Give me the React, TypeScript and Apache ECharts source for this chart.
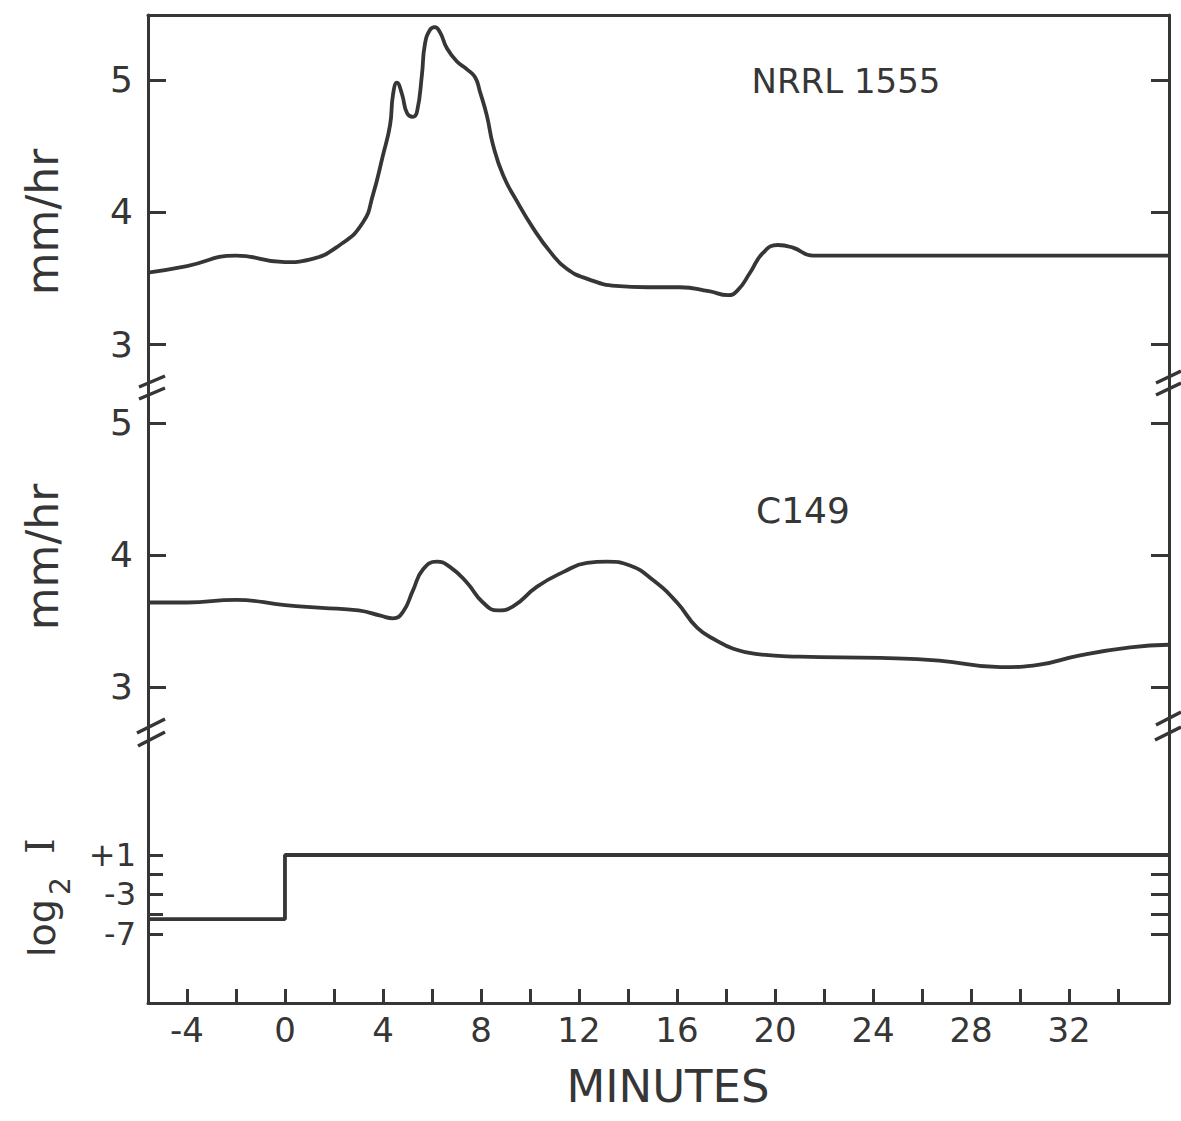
import React, { useEffect, useRef } from "react";
import * as echarts from "echarts";

// ---- data ----
const xMin = -5.59;
const xMax = 36.08;

const nrrlMinutes = [-5.59, -4, -2, 0, 1, 2.24, 3.18, 3.59, 4.0, 4.29, 4.41, 4.57, 4.78, 4.98, 5.22, 5.39, 5.59, 5.71, 5.92, 6.12, 6.33, 6.61, 7.02, 7.43, 7.76, 7.96, 8.24, 8.49, 8.9, 9.47, 10.12, 10.82, 11.5, 12.4, 13.5, 14.8, 16.12, 17.3, 18.08, 18.49, 18.98, 19.51, 20.12, 20.73, 21.55, 24.3, 36.08];
const nrrlRate = [3.54, 3.59, 3.67, 3.62, 3.64, 3.75, 3.92, 4.13, 4.43, 4.66, 4.89, 4.98, 4.89, 4.75, 4.72, 4.76, 5.04, 5.27, 5.38, 5.4, 5.36, 5.24, 5.14, 5.08, 5.02, 4.91, 4.73, 4.51, 4.28, 4.08, 3.88, 3.7, 3.57, 3.49, 3.44, 3.43, 3.43, 3.4, 3.37, 3.41, 3.54, 3.69, 3.75, 3.73, 3.67, 3.67, 3.67];

const c149Minutes = [-5.59, -4, -2, 0, 1.5, 3, 3.9, 4.41, 4.82, 5.22, 5.63, 6.2, 6.73, 7.43, 8.08, 8.69, 9.31, 10.29, 11.35, 12.33, 13.14, 14.08, 15.02, 16.0, 16.82, 17.63, 18.3, 19.2, 21, 24.3, 26.7, 29.2, 30.8, 32.45, 34.5, 36.08];
const c149Rate = [3.64, 3.64, 3.66, 3.62, 3.6, 3.58, 3.54, 3.52, 3.57, 3.73, 3.89, 3.95, 3.91, 3.79, 3.64, 3.58, 3.61, 3.76, 3.87, 3.94, 3.95, 3.92, 3.81, 3.64, 3.45, 3.35, 3.29, 3.25, 3.23, 3.22, 3.2, 3.15, 3.17, 3.24, 3.3, 3.32];

const lightMinutes = [-5.59, 0, 0, 36.08];
const lightLog2I = [-5.5, -5.5, 1, 1];

const minuteTicks = [-4, -2, 0, 2, 4, 6, 8, 10, 12, 14, 16, 18, 20, 22, 24, 26, 28, 30, 32, 34];
const minuteLabels = [-4, 0, 4, 8, 12, 16, 20, 24, 28, 32];
const rateTicks = [3, 4, 5];
const logTicksLeft = [1, -1, -3, -5, -7];
const logTicksRight = [-1, -3, -5, -7];
const logLabels = [1, -3, -7];

const INK = "#363636";
const FONT = "DejaVu Sans";

function pairs(xs: number[], ys: number[]) {
  return xs.map((x, i) => [x, ys[i]]);
}

export default function App() {
  const ref = useRef<HTMLDivElement>(null);
  useEffect(() => {
    document.body.style.margin = "0";
    const chart = echarts.init(ref.current!, undefined, { renderer: "svg" });

    const gridLeft = 148;
    const gridRight = 12;
    const grids = [
      { left: gridLeft, right: gridRight, top: 15, height: 373 },
      { left: gridLeft, right: gridRight, top: 388, height: 342 },
      { left: gridLeft, right: gridRight, top: 730, height: 273 },
    ];
    const yRanges = [
      [2.667, 5.492],
      [2.674, 5.265],
      [-13.99, 13.66],
    ];

    const axisLine = { show: true, onZero: false, lineStyle: { color: INK, width: 3 } };
    const tickStyle = { color: INK, width: 3 };
    const labelStyle = { color: INK, fontFamily: FONT, fontSize: 36 };

    const xAxes: any[] = [
      {
        gridIndex: 0, type: "value", min: xMin, max: xMax, position: "top",
        axisLine, axisTick: { show: false }, axisLabel: { show: false }, splitLine: { show: false },
      },
      {
        gridIndex: 1, type: "value", min: xMin, max: xMax, show: false,
      },
      {
        gridIndex: 2, type: "value", min: xMin, max: xMax, position: "bottom",
        axisLine,
        axisTick: { show: true, inside: true, length: 14, lineStyle: tickStyle, customValues: minuteTicks },
        axisLabel: {
          show: true, ...labelStyle, fontSize: 34, margin: 10, customValues: minuteLabels,
          formatter: (v: number) => (v < 0 ? "-" + Math.abs(v) : String(v)),
        },
        splitLine: { show: false },
      },
    ];

    const yAxes: any[] = [];
    for (let g = 0; g < 3; g++) {
      const isLog = g === 2;
      yAxes.push({
        gridIndex: g, type: "value", position: "left", min: yRanges[g][0], max: yRanges[g][1],
        axisLine,
        axisTick: { show: true, inside: true, length: isLog ? 15 : 18, lineStyle: tickStyle, customValues: isLog ? logTicksLeft : rateTicks },
        axisLabel: {
          show: true, ...labelStyle, fontSize: isLog ? 32 : 36, margin: isLog ? 12 : 15,
          customValues: isLog ? logLabels : rateTicks,
          formatter: (v: number) => (isLog ? (v > 0 ? "+" + v : "-" + Math.abs(v)) : String(v)),
        },
        splitLine: { show: false },
      });
      yAxes.push({
        gridIndex: g, type: "value", position: "right", min: yRanges[g][0], max: yRanges[g][1],
        axisLine,
        axisTick: { show: true, inside: true, length: 18, lineStyle: tickStyle, customValues: isLog ? logTicksRight : rateTicks },
        axisLabel: { show: false },
        splitLine: { show: false },
      });
    }

    const lineStyle = { color: INK, width: 3.8 };
    const series: any[] = [
      {
        type: "line", xAxisIndex: 0, yAxisIndex: 0, data: pairs(nrrlMinutes, nrrlRate),
        smooth: 0.5, showSymbol: false, lineStyle, silent: true,
      },
      {
        type: "line", xAxisIndex: 1, yAxisIndex: 2, data: pairs(c149Minutes, c149Rate),
        smooth: 0.5, showSymbol: false, lineStyle, silent: true,
      },
      {
        type: "line", xAxisIndex: 2, yAxisIndex: 4, data: pairs(lightMinutes, lightLog2I),
        smooth: false, showSymbol: false, lineStyle, silent: true,
      },
    ];

    const slash = (x1: number, y1: number, x2: number, y2: number) => ({
      type: "line", shape: { x1, y1, x2, y2 }, style: { stroke: INK, lineWidth: 3.5 }, z: 10,
    });
    const rotText = (text: string, x: number, y: number, size: number, family = FONT) => ({
      type: "text", x, y, rotation: Math.PI / 2, z: 10,
      style: {
        text, fontSize: size, fontFamily: family, fill: INK,
        align: "center", verticalAlign: "middle", textAlign: "center", textVerticalAlign: "middle",
      },
    });
    const plainText = (text: string, x: number, y: number, size: number) => ({
      type: "text", x, y, z: 10,
      style: {
        text, fontSize: size, fontFamily: FONT, fill: INK,
        align: "center", verticalAlign: "middle", textAlign: "center", textVerticalAlign: "middle",
      },
    });

    const graphic: any[] = [
      // axis breaks
      slash(139, 387, 165, 376),
      slash(139, 399, 165, 388),
      slash(1156, 383, 1181, 371),
      slash(1156, 395, 1181, 383),
      slash(137, 733, 165, 719),
      slash(138, 746, 165, 732),
      slash(1156, 725, 1181, 712),
      slash(1155, 740, 1181, 727),
      // axis names
      rotText("mm/hr", 42, 222, 44),
      rotText("mm/hr", 42, 557, 44),
      rotText("log", 42, 928, 38),
      rotText("2", 60, 886, 28),
      rotText("I", 40, 846, 40, "DejaVu Serif"),
      // panel labels
      plainText("NRRL 1555", 846, 81, 34),
      plainText("C149", 803, 510, 36),
      plainText("MINUTES", 668, 1086, 45),
    ];

    chart.setOption({
      animation: false,
      backgroundColor: "#ffffff",
      grid: grids,
      xAxis: xAxes,
      yAxis: yAxes,
      series,
      graphic,
    });
    return () => chart.dispose();
  }, []);
  return <div ref={ref} style={{ width: 1181, height: 1121 }} />;
}
